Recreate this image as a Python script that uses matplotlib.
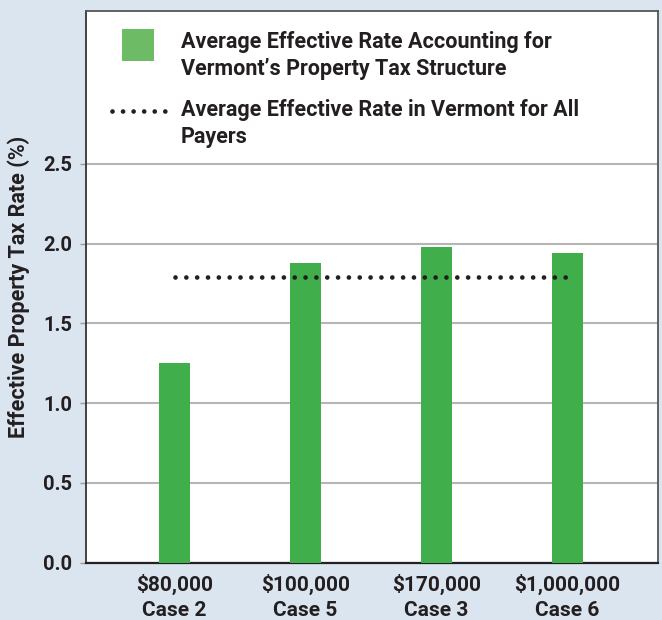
import matplotlib
matplotlib.use("Agg")
import matplotlib.pyplot as plt
from matplotlib.patches import Rectangle
from matplotlib.lines import Line2D

categories = ["$80,000\nCase 2", "$100,000\nCase 5", "$170,000\nCase 3", "$1,000,000\nCase 6"]
structure_rates = [1.25, 1.88, 1.98, 1.94]
all_payers_rate = 1.79
yticks = [0.0, 0.5, 1.0, 1.5, 2.0, 2.5]
legend_labels = ["Average Effective Rate Accounting for\nVermont\u2019s Property Tax Structure",
                 "Average Effective Rate in Vermont for All\nPayers"]

BG = "#dbe5f0"
BAR = "#40ae4a"
LEG_SQ = "#6dbb65"
TXT = "#231f20"
FONT = "Roboto"

fig = plt.figure(figsize=(6.62, 6.20), dpi=100, facecolor=BG)
ax = fig.add_axes([86/662, 1 - 562.7/620, 572/662, 552/620])
ax.set_facecolor("white")

x = list(range(len(categories)))
ax.bar(x, structure_rates, width=0.237, color=BAR, zorder=3)
ax.plot([x[0], x[-1]], [all_payers_rate, all_payers_rate], color=TXT,
        linewidth=3.4, linestyle=(0, (0.001, 7.8/3.4)), dash_capstyle="round", zorder=4)

ax.set_xlim(-0.676, 3.69)
ax.set_ylim(0, 3.46)
ax.set_yticks(yticks)
ax.set_yticklabels([f"{v:.1f}" for v in yticks], fontsize=14.5, fontweight="bold",
                   family=FONT, color=TXT)
ax.set_xticks(x)
ax.set_xticklabels(categories, fontsize=15, fontweight="bold", family=FONT,
                   color=TXT, linespacing=1.4)
ax.tick_params(axis="x", length=0, pad=8)
ax.tick_params(axis="y", length=4, width=1, color="#999999", pad=6)
ax.grid(axis="y", color="#b5b5b5", linewidth=1.5, zorder=1)
ax.set_axisbelow(True)
for side, sp in ax.spines.items():
    sp.set_color("#555555")
    sp.set_linewidth(1.3)
ax.spines["left"].set_color("#333333")
ax.spines["bottom"].set_color("#222222")
ax.spines["bottom"].set_linewidth(1.6)

ax.set_ylabel("Effective Property Tax Rate (%)", fontsize=15.5, fontweight="bold",
              family=FONT, color=TXT, labelpad=9)

# legend drawn as artists in figure pixel coordinates
def fx(px):
    return px / 662
def fy(py):
    return 1 - py / 620

fig.patches.append(Rectangle((fx(122), fy(61)), 32/662, 32/620, transform=fig.transFigure,
                             facecolor=LEG_SQ, edgecolor="none", zorder=5))
fig.lines.append(Line2D([fx(111.5), fx(164.5)], [fy(111), fy(111)], transform=fig.transFigure,
                        color=TXT, linewidth=3.4, linestyle=(0, (0.001, 7.6/3.4)),
                        dash_capstyle="round", zorder=5))
fig.text(fx(181), fy(31), legend_labels[0], ha="left", va="top", fontsize=15.5,
         fontweight="bold", family=FONT, color=TXT, linespacing=1.3)
fig.text(fx(181), fy(99), legend_labels[1], ha="left", va="top", fontsize=15.5,
         fontweight="bold", family=FONT, color=TXT, linespacing=1.3)

fig.savefig("out.png", dpi=100, facecolor=BG)
